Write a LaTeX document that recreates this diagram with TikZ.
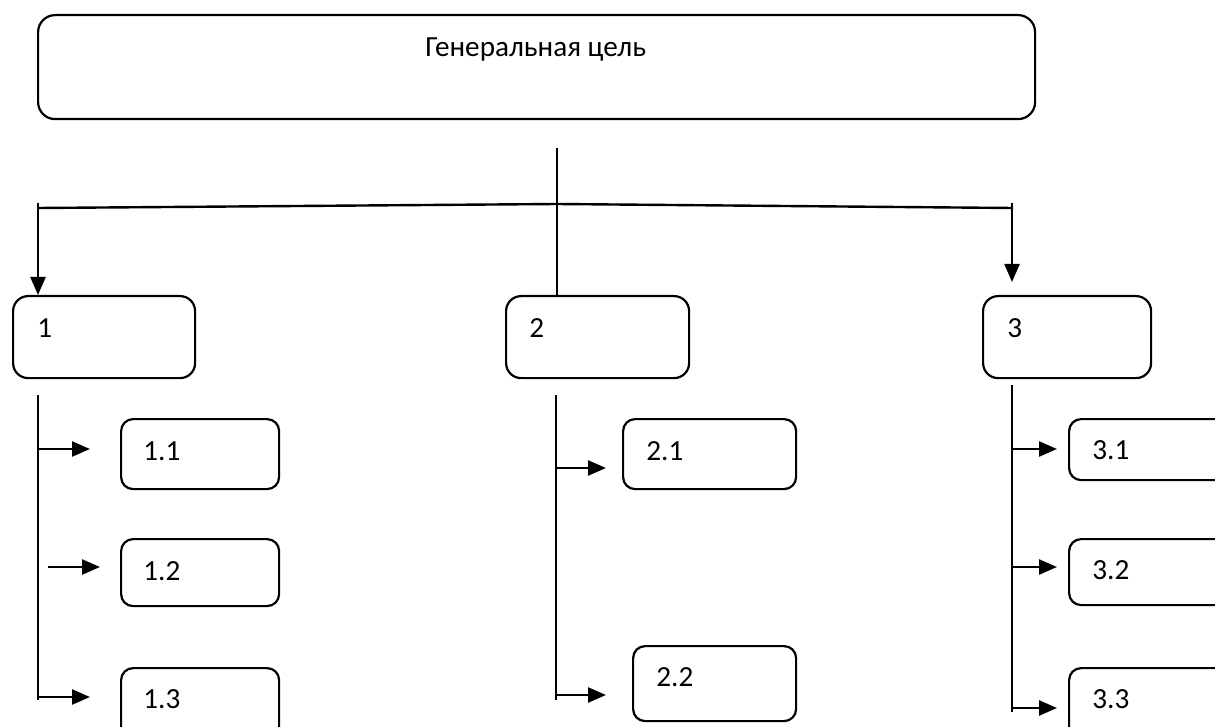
\documentclass[tikz,border=0pt]{standalone}
\usepackage{fontspec}
\setmainfont{Carlito}
\usetikzlibrary{arrows.meta}
\begin{document}
\begin{tikzpicture}[x=0.5pt,y=-0.5pt,
  box/.style={draw,line width=1.1pt,rounded corners=6pt,anchor=north west,inner sep=0pt},
  lbl/.style={anchor=base west,inner sep=0pt,font=\fontsize{14.6}{17}\selectfont},
  conn/.style={line width=1.2pt},
  arr/.style={line width=1.2pt,-{Triangle[length=9pt,width=7.5pt]}}]
\useasboundingbox (0,0) rectangle (1215,727);
\clip (0,0) rectangle (1215,727);
% boxes
\node[box,rounded corners=8.5pt,minimum width=498.5pt,minimum height=52pt] (top) at (37,14) {};
\node[box,rounded corners=7.5pt,minimum width=91pt,minimum height=41pt] (b1) at (12,295) {};
\node[box,rounded corners=7.5pt,minimum width=91.5pt,minimum height=41pt] (b2) at (505,295) {};
\node[box,rounded corners=7.5pt,minimum width=84pt,minimum height=41pt] (b3) at (982,295) {};
\node[box,minimum width=79pt,minimum height=35pt] (b11) at (120,418) {};
\node[box,minimum width=79pt,minimum height=33.5pt] (b12) at (120,538) {};
\node[box,minimum width=79pt,minimum height=40pt] (b13) at (120,667) {};
\node[box,minimum width=86.5pt,minimum height=35pt] (b21) at (622,418) {};
\node[box,minimum width=81.5pt,minimum height=37.5pt] (b22) at (632,645) {};
\node[box,minimum width=86pt,minimum height=30.5pt] (b31) at (1068,418) {};
\node[box,minimum width=86pt,minimum height=33pt] (b32) at (1068,538) {};
\node[box,minimum width=86pt,minimum height=40pt] (b33) at (1068,667) {};
% labels
\node[lbl] (ttop) at (425,57) {Генеральная цель};
\node[lbl] (t1) at (37,337) {1};
\node[lbl] (t2) at (529,337) {2};
\node[lbl] (t3) at (1007,337) {3};
\node[lbl] (t11) at (143,460) {1.1};
\node[lbl] (t12) at (143,580) {1.2};
\node[lbl] (t13) at (143,708) {1.3};
\node[lbl] (t21) at (646,460) {2.1};
\node[lbl] (t22) at (656,686) {2.2};
\node[lbl] (t31) at (1092,459) {3.1};
\node[lbl] (t32) at (1092,579) {3.2};
\node[lbl] (t33) at (1092,708) {3.3};
% upper connectors
\coordinate (c0) at (557,148);
\coordinate (hl) at (38,208);
\coordinate (hm) at (557,204);
\coordinate (hr) at (1013,208);
\coordinate (v1s) at (38,203);
\coordinate (v3s) at (1012,203);
\coordinate (v3e) at (1012,282);
\draw[conn] (c0) -- (c0 |- b2.north);
\draw[conn] (hl) -- (hm) -- (hr);
\draw[arr] (v1s) -- (v1s |- b1.north);
\draw[arr] (v3s) -- (v3e);
% column 1
\coordinate (k1a) at (38,395);
\coordinate (k1b) at (38,700);
\draw[conn] (k1a) -- (k1b);
\coordinate (a11s) at (38,449); \coordinate (a11e) at (90,449);
\coordinate (a12s) at (48,567); \coordinate (a12e) at (100,567);
\coordinate (a13s) at (38,697); \coordinate (a13e) at (90,697);
\draw[arr] (a11s) -- (a11e);
\draw[arr] (a12s) -- (a12e);
\draw[arr] (a13s) -- (a13e);
% column 2
\coordinate (k2a) at (556,395);
\coordinate (k2b) at (556,700);
\draw[conn] (k2a) -- (k2b);
\coordinate (a21s) at (556,468); \coordinate (a21e) at (606,468);
\coordinate (a22s) at (556,695); \coordinate (a22e) at (606,695);
\draw[arr] (a21s) -- (a21e);
\draw[arr] (a22s) -- (a22e);
% column 3
\coordinate (k3a) at (1012,385);
\coordinate (k3b) at (1012,712);
\draw[conn] (k3a) -- (k3b);
\coordinate (a31s) at (1012,449); \coordinate (a31e) at (1057,449);
\coordinate (a32s) at (1012,567); \coordinate (a32e) at (1057,567);
\coordinate (a33s) at (1012,708); \coordinate (a33e) at (1057,708);
\draw[arr] (a31s) -- (a31e);
\draw[arr] (a32s) -- (a32e);
\draw[arr] (a33s) -- (a33e);
\end{tikzpicture}
\end{document}
